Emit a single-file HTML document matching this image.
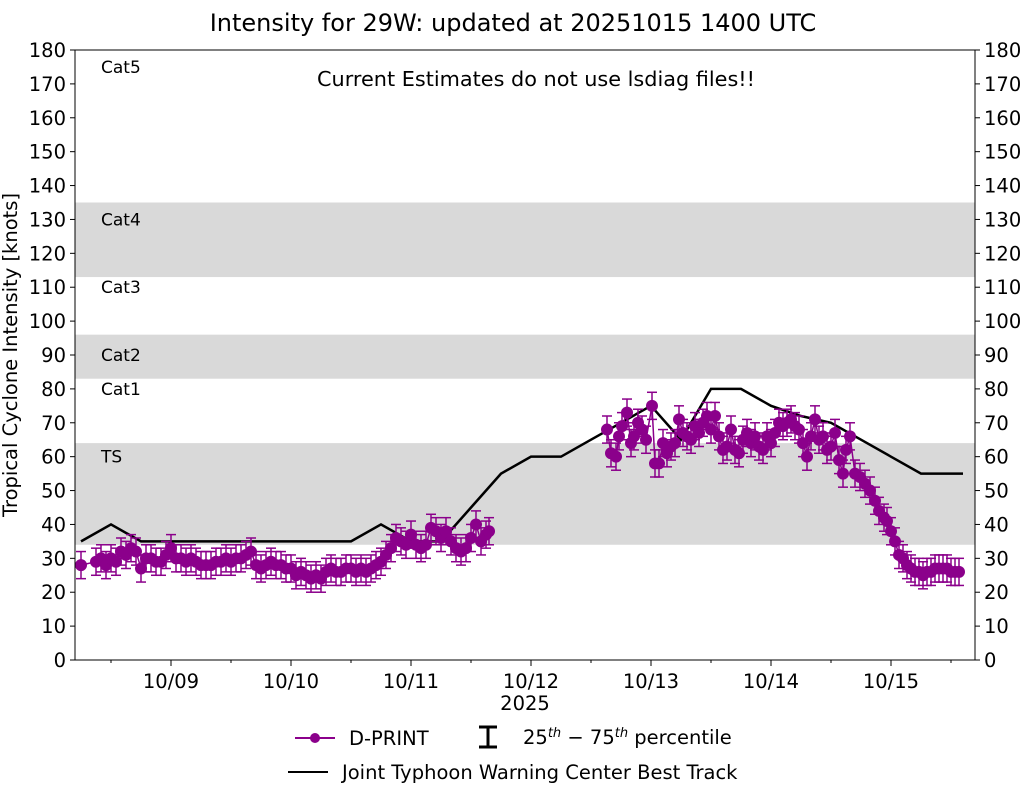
<!DOCTYPE html>
<html><head><meta charset="utf-8"><style>
body{margin:0;background:#fff;}
svg text{font-family:"DejaVu Sans","Liberation Sans",sans-serif;}
</style></head><body>
<svg id="chart" width="1025" height="785" xmlns="http://www.w3.org/2000/svg"></svg>
<script>
// data: hours since 2025-10-08 00Z
const bestHours=[6,12,18,24,30,36,42,48,54,60,66,72,78,84,90,96,102,108,114,120,126,132,138,144,150,156,162,168,174,182.4];
const bestKnots=[35,40,35,35,35,35,35,35,35,35,40,35,35,45,55,60,60,65,70,75,65,80,80,75,72,70,65,60,55,55];
const dpHours=[6,9,10,11,12,13,14,15,16,17,18,19,20,21,22,23,24,25,26,27,28,29,30,31,32,33,34,35,36,37,38,39,40,41,42,43,44,45,46,47,48,49,50,51,52,53,54,55,56,57,58,59,60,61,62,63,64,65,66,67,68,69,70,71,72,73,74,75,76,77,78,79,80,81,82,83,84,85,86,87,87.6,
111.2,112,113,113.6,114.2,115.2,116,116.6,117.4,118.2,119,120.2,120.8,121.6,122.4,123.2,124,124.8,125.6,126.4,127.2,128,128.8,129.6,130.4,131.2,132,132.8,133.6,134.4,135.2,136,136.8,137.6,138.4,139.2,140,140.8,141.6,142.4,143.2,144,144.8,145.6,146.4,147.2,148,148.8,149.6,150.4,151.2,152,152.8,153.6,154.4,155.2,156,156.8,157.6,158.4,159,159.8,160.8,161.8,162.8,163.8,164.8,165.6,166.6,167.2,168,168.8,169.6,170.4,171.2,172,172.8,173.6,174.4,175.2,176,176.8,177.6,178.4,179.2,180,180.8,181.6];
const dpKnots=[28,29,30,28,30,29,32,31,33,32,27,30,30,29,29,31,33,30,30,29,30,29,28,28,28,29,29,30,29,30,30,31,32,28,27,28,29,28,28,27,27,25,26,25,24,25,24,26,27,26,26,27,27,26,27,26,27,28,29,31,33,36,35,34,37,34,33,34,39,38,36,38,35,33,32,33,36,40,35,37,38,
68,61,60,66,69,73,64,66,70,68,65,75,58,58,64,61,63,64,71,67,66,65,69,67,70,72,68,72,66,62,63,68,62,61,65,67,64,66,63,62,66,64,67,70,69,70,71,69,68,64,60,66,71,65,66,62,63,67,59,55,62,66,55,54,52,50,47,44,42,41,38,35,31,30,28,27,26,26,25,26,26,27,27,27,27,26,26,26];
const yTicks=[0,10,20,30,40,50,60,70,80,90,100,110,120,130,140,150,160,170,180];
const xTickLabels=["10/09","10/10","10/11","10/12","10/13","10/14","10/15"];
const bands=[[34,64],[83,96],[113,135]];
const catLabels=[["Cat5",175],["Cat4",130],["Cat3",110],["Cat2",90],["Cat1",80],["TS",60]];

const L=75,R=975,T=50,B=660;
const x=h=>L+(h-4.8)*5;
const y=v=>B-v*(B-T)/180;
const svg=document.getElementById('chart');
const NS="http://www.w3.org/2000/svg";
function mk(tag,attrs,parent){const e=document.createElementNS(NS,tag);for(const k in attrs)e.setAttribute(k,attrs[k]);(parent||svg).appendChild(e);return e;}

const bg=mk('g',{});


bands.forEach(b=>{mk('rect',{x:L,y:y(b[1]),width:R-L,height:y(b[0])-y(b[1]),fill:'#d9d9d9'},bg);});
catLabels.forEach(c=>{const t=mk('text',{x:101,y:y(c[1])+6,'font-size':17},bg);t.textContent=c[0];

});
const note=mk('text',{x:536,y:86,'font-size':20.8,'text-anchor':'middle'});note.textContent='Current Estimates do not use lsdiag files!!';



// best track
const bt=mk('polyline',{points:bestHours.map((h,i)=>x(h)+','+y(bestKnots[i])).join(' '),fill:'none',stroke:'#000','stroke-width':2.5});



// dprint
const dg=mk('g',{});


dpHours.forEach((h,i)=>{const cx=x(h),v=dpKnots[i];const y1=y(v+4),y2=y(v-4);
mk('line',{x1:cx,x2:cx,y1:y1,y2:y2,stroke:'#8b008b','stroke-width':1.5},dg);
mk('line',{x1:cx-5,x2:cx+5,y1:y1,y2:y1,stroke:'#8b008b','stroke-width':1.5},dg);
mk('line',{x1:cx-5,x2:cx+5,y1:y2,y2:y2,stroke:'#8b008b','stroke-width':1.5},dg);});
const segs=[[0,81],[81,dpHours.length]];
segs.forEach(s=>{mk('polyline',{points:dpHours.slice(s[0],s[1]).map((h,i)=>x(h)+','+y(dpKnots[s[0]+i])).join(' '),fill:'none',stroke:'#8b008b','stroke-width':1.5},dg);});
dpHours.forEach((h,i)=>{const c=mk('circle',{cx:x(h),cy:y(dpKnots[i]),r:6,fill:'#8b008b'},dg);

});

// axes frame
mk('rect',{x:L,y:T,width:R-L,height:B-T,fill:'none',stroke:'#000','stroke-width':1});
yTicks.forEach(v=>{const yy=y(v);
mk('line',{x1:L-5,x2:L,y1:yy,y2:yy,stroke:'#000'});mk('line',{x1:R,x2:R+5,y1:yy,y2:yy,stroke:'#000'});
const a=mk('text',{x:L-9,y:yy+7,'font-size':19.5,'text-anchor':'end'});a.textContent=v;


const b=mk('text',{x:R+9,y:yy+7,'font-size':19.5});b.textContent=v;

});
xTickLabels.forEach((lab,i)=>{const xx=x(24*(i+1));
mk('line',{x1:xx,x2:xx,y1:B,y2:B+6,stroke:'#000'});
const t=mk('text',{x:xx,y:B+28,'font-size':19.5,'text-anchor':'middle'});t.textContent=lab;

});
for(let h=12;h<=180;h+=24){const xx=x(h);mk('line',{x1:xx,x2:xx,y1:B,y2:B+3,stroke:'#000'});}
const yr=mk('text',{x:525,y:710,'font-size':19.5,'text-anchor':'middle'});yr.textContent='2025';


const yt=mk('text',{x:17,y:355,'font-size':19.5,'text-anchor':'middle',transform:'rotate(-90 17 355)'});yt.textContent='Tropical Cyclone Intensity [knots]';


const ti=mk('text',{x:513,y:31,'font-size':24,'text-anchor':'middle'});ti.textContent='Intensity for 29W: updated at 20251015 1400 UTC';



// legend
const lg=mk('g',{});


mk('line',{x1:295,x2:335,y1:738,y2:738,stroke:'#8b008b','stroke-width':2},lg);
mk('circle',{cx:315,cy:738,r:5,fill:'#8b008b'},lg);
let t1=mk('text',{x:349,y:745,'font-size':19.5},lg);t1.textContent='D-PRINT';
mk('line',{x1:488,x2:488,y1:727,y2:747,stroke:'#000','stroke-width':3},lg);
mk('line',{x1:479,x2:497,y1:727,y2:727,stroke:'#000','stroke-width':3},lg);
mk('line',{x1:479,x2:497,y1:747,y2:747,stroke:'#000','stroke-width':3},lg);
let t2=mk('text',{x:523,y:744,'font-size':19.5},lg);
t2.innerHTML='25<tspan font-size="13" dy="-7" font-style="italic">th</tspan><tspan dy="7"> − 75</tspan><tspan font-size="13" dy="-7" font-style="italic">th</tspan><tspan dy="7"> percentile</tspan>';
mk('line',{x1:288,x2:328,y1:772,y2:772,stroke:'#000','stroke-width':2},lg);
let t3=mk('text',{x:342,y:779,'font-size':19.5},lg);t3.textContent='Joint Typhoon Warning Center Best Track';
</script>
</body></html>
